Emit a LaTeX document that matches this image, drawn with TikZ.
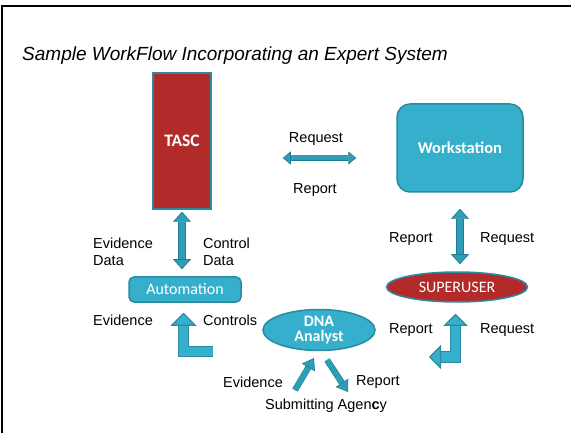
\documentclass[tikz,border=0pt]{standalone}
\usepackage{fontspec}
\setmainfont{Liberation Sans}
\newfontfamily\nodefont{Carlito}
\usetikzlibrary{arrows.meta,shapes.geometric,calc}
\definecolor{tascred}{HTML}{B22A2A}
\definecolor{cyanfill}{HTML}{35AFCB}
\definecolor{tealedge}{HTML}{2A8BA0}
\definecolor{arrowfill}{HTML}{2E9DB7}
\definecolor{arrowedge}{HTML}{1F7D92}
\tikzset{
  lbl/.style={font=\fontsize{14.5}{17}\selectfont, inner sep=0pt, align=left, anchor=west},
  redbox/.style={fill=tascred, draw=tealedge, line width=1.5pt, text=white, font=\nodefont\bfseries\fontsize{17.5}{19}\selectfont},
  cyanbox/.style={fill=cyanfill, draw=tealedge, line width=1.5pt, text=white, font=\nodefont\fontsize{16}{18}\selectfont},
  dbl/.style={draw=arrowedge, line width=0.7pt, double=arrowfill, double distance=6.5pt,
    {Triangle[width=18pt,length=10pt,fill=arrowfill]}-{Triangle[width=18pt,length=10pt,fill=arrowfill]}},
  hdbl/.style={draw=arrowedge, line width=0.7pt, double=arrowfill, double distance=5pt,
    {Triangle[width=13pt,length=8pt,fill=arrowfill]}-{Triangle[width=13pt,length=8pt,fill=arrowfill]}},
  bent/.style={draw=tealedge, line width=1.2pt, double=cyanfill, double distance=9.5pt, line join=miter},
  bentdbl/.style={bent, {Triangle[width=24pt,length=12pt,fill=cyanfill]}-{Triangle[width=24pt,length=12pt,fill=cyanfill]}},
  bentone/.style={bent, -{Triangle[width=26pt,length=13pt,fill=cyanfill]}},
  diag/.style={draw=arrowedge, line width=0.6pt, double=arrowfill, double distance=5pt,
    -{Triangle[width=15pt,length=11pt,fill=arrowfill]}},
}
\begin{document}
\begin{tikzpicture}[x=1pt,y=-1pt]
\useasboundingbox (0,0) rectangle (571,433);
\fill[white] (0,0) rectangle (571,433);
\draw[line width=2.5pt, black] (2,433) -- (2,6) -- (571,6);
\node[anchor=west, inner sep=0pt, font=\itshape\fontsize{19}{21}\selectfont] (title) at (22,56) {Sample WorkFlow Incorporating an Expert System};

% nodes
\node[redbox, minimum width=58pt, minimum height=136pt] (tasc) at (182,141) {TASC};
\node[cyanbox, rounded corners=13pt, minimum width=126pt, minimum height=88pt, font=\nodefont\bfseries\fontsize{16.5}{18}\selectfont] (ws) at (460,148) {Workstation};
\node[cyanbox, rounded corners=5pt, minimum width=112pt, minimum height=25pt, inner sep=0pt] (auto) at (185,289.5) {Automation};
\node[redbox, ellipse, minimum width=141pt, minimum height=30pt, inner sep=0pt, font=\nodefont\fontsize{16}{17}\selectfont] (su) at (457,287) {SUPERUSER};
\node[cyanbox, ellipse, minimum width=112pt, minimum height=41pt, inner sep=0pt, align=center, font=\nodefont\bfseries\fontsize{16}{15}\selectfont] (dna) at (319,330) {DNA\\Analyst};

% labels
\node[lbl] (l1) at (93,252) {Evidence\\Data};
\node[lbl] (l2) at (203,252) {Control\\Data};
\node[lbl] (l3) at (93,320) {Evidence};
\node[lbl] (l4) at (203,320) {Controls};
\node[lbl, anchor=center] (l5) at (316,139) {Request};
\node[lbl, anchor=center] (l6) at (315,190) {Report};
\node[lbl] (l7) at (389,239) {Report};
\node[lbl] (l8) at (480,239) {Request};
\node[lbl] (l9) at (389,330) {Report};
\node[lbl] (l10) at (480,330) {Request};
\node[lbl] (l11) at (223,382) {Evidence};
\node[lbl] (l12) at (356,382) {Report};
\node[lbl] (agency) at (265,406) {Submitting Agen\textbf{c}y};

% connectors
\draw[dbl, shorten <=2pt, shorten >=7pt] (tasc.south) -- (tasc.south |- auto.north);
\draw[hdbl, shorten <=71pt, shorten >=40pt] (tasc.east |- 0,158) -- (ws.west |- 0,158);
\draw[dbl, shorten <=16pt, shorten >=7pt] (ws.south) -- (ws.south |- su.north);

\coordinate (sucorner) at (455.5,357);
\coordinate (suleft) at (429,357);
\draw[bentdbl, shorten >=11pt] (suleft) -- (sucorner) -- (sucorner |- su.south);

\coordinate (autotail) at (213,351.5);
\coordinate (autocorner) at (183.5,351.5);
\draw[bentone, shorten >=10pt] (autotail) -- (autocorner) -- (autocorner |- auto.south);

\coordinate (evtail) at (295,390);
\coordinate (evtip) at (314,358);
\coordinate (reptail) at (327,360);
\coordinate (reptip) at (348,392);
\draw[diag] (evtail) -- (evtip);
\draw[diag] (reptail) -- (reptip);
\end{tikzpicture}
\end{document}
